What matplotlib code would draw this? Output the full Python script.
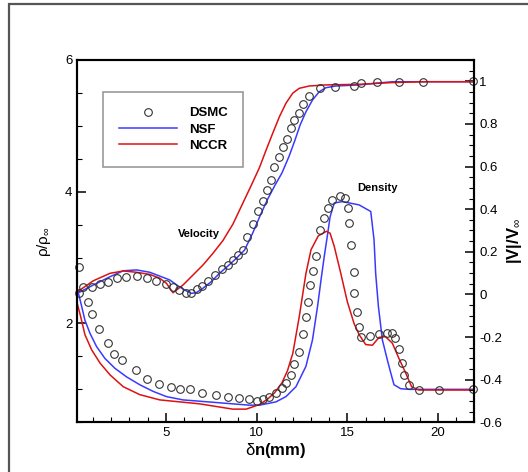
import matplotlib
matplotlib.use('Agg')
import matplotlib.pyplot as plt
from matplotlib.ticker import MultipleLocator, FuncFormatter
from matplotlib.lines import Line2D
from matplotlib.patches import Rectangle

plt.rcParams['font.family'] = ['Liberation Sans', 'DejaVu Sans']
plt.rcParams['mathtext.fontset'] = 'custom'
plt.rcParams['mathtext.rm'] = 'Liberation Sans'
plt.rcParams['mathtext.it'] = 'Liberation Sans:italic'
plt.rcParams['mathtext.bf'] = 'Liberation Sans:bold'
plt.rcParams['axes.unicode_minus'] = False

# ---- DSMC (circles) ----
dsmc_v_x = [0.2, 0.45, 0.92, 1.38, 1.8, 2.33, 2.8, 3.43, 3.97, 4.45, 5.0, 5.4, 5.73, 6.1, 6.41,
            6.72, 7.01, 7.32, 7.69, 8.11, 8.42, 8.69, 8.97, 9.24, 9.5, 9.8, 10.1, 10.35, 10.6,
            10.82, 10.98, 11.22, 11.48, 11.68, 11.9, 12.08, 12.32, 12.54, 12.9, 13.51, 14.33,
            15.34, 15.74, 16.65, 17.84, 19.18, 21.9]
dsmc_v = [0.008, 0.036, 0.033, 0.047, 0.060, 0.076, 0.083, 0.086, 0.079, 0.064, 0.049, 0.036,
          0.021, 0.008, 0.008, 0.025, 0.041, 0.064, 0.091, 0.118, 0.138, 0.161, 0.185, 0.208,
          0.27, 0.33, 0.39, 0.44, 0.49, 0.535, 0.596, 0.643, 0.690, 0.729, 0.779, 0.818, 0.853,
          0.892, 0.931, 0.967, 0.975, 0.979, 0.991, 0.995, 0.998, 0.998, 1.0]

dsmc_r_x = [0.2, 0.70, 0.92, 1.34, 1.84, 2.16, 2.60, 3.35, 3.97, 4.63, 5.31, 5.80, 6.32, 7.01,
            7.78, 8.42, 9.06, 9.57, 10.01, 10.34, 10.71, 11.07, 11.40, 11.62, 11.90, 12.08,
            12.32, 12.54, 12.72, 12.85, 12.96, 13.10, 13.27, 13.52, 13.71, 13.95, 14.17, 14.57,
            14.87, 15.04, 15.09, 15.19, 15.34, 15.37, 15.52, 15.65, 15.74, 16.25, 16.75, 17.17,
            17.48, 17.62, 17.84, 17.99, 18.12, 18.39, 18.94, 20.04, 21.93]
dsmc_r = [2.86, 2.33, 2.15, 1.91, 1.70, 1.53, 1.44, 1.29, 1.15, 1.08, 1.04, 1.01, 1.01, 0.94,
          0.91, 0.89, 0.87, 0.86, 0.82, 0.85, 0.89, 0.94, 1.02, 1.10, 1.22, 1.39, 1.57, 1.84,
          2.10, 2.32, 2.59, 2.79, 3.03, 3.42, 3.60, 3.75, 3.88, 3.93, 3.90, 3.75, 3.53, 3.19,
          2.78, 2.47, 2.17, 1.94, 1.80, 1.81, 1.84, 1.86, 1.85, 1.78, 1.61, 1.40, 1.22, 1.06,
          0.99, 0.99, 1.0]

# ---- NSF (blue) ----
nsf_v_x = [0.13, 1.01, 1.93, 2.66, 3.39, 4.12, 4.67, 5.22, 5.68, 6.04, 6.41, 6.68, 7.05, 7.51,
           7.96, 8.42, 8.88, 9.34, 9.8, 10.2, 10.6, 11.0, 11.4, 11.8, 12.1, 12.4, 12.72, 13.08,
           13.45, 13.82, 14.37, 15.65, 16.57, 17.48, 22.0]
nsf_v = [0.005, 0.044, 0.083, 0.111, 0.115, 0.104, 0.086, 0.068, 0.040, 0.021, 0.005, 0.008,
         0.029, 0.060, 0.099, 0.133, 0.169, 0.208, 0.29, 0.37, 0.445, 0.51, 0.57, 0.65, 0.72,
         0.795, 0.857, 0.912, 0.951, 0.970, 0.978, 0.983, 0.991, 0.998, 0.998]

nsf_r_x = [0.13, 0.22, 0.37, 0.55, 0.83, 1.19, 1.65, 2.20, 2.84, 3.57, 4.30, 5.04, 5.95, 6.87,
           7.78, 8.69, 9.61, 10.16, 11.07, 11.62, 12.17, 12.72, 13.08, 13.36, 13.55, 13.73,
           13.91, 14.05, 14.28, 14.73, 15.65, 16.29, 16.47, 16.56, 16.71, 16.93, 17.20, 17.39,
           17.57, 17.94, 18.39, 22.0]
nsf_r = [2.5, 2.43, 2.26, 2.05, 1.85, 1.65, 1.47, 1.32, 1.19, 1.07, 0.97, 0.89, 0.84, 0.82,
         0.80, 0.78, 0.76, 0.76, 0.81, 0.89, 1.04, 1.35, 1.75, 2.26, 2.66, 3.02, 3.35, 3.62,
         3.83, 3.85, 3.80, 3.70, 3.27, 2.76, 2.26, 1.75, 1.45, 1.25, 1.07, 1.01, 1.0, 1.0]

# ---- NCCR (red) ----
nccr_v_x = [0.13, 1.01, 1.93, 2.66, 3.39, 4.12, 4.67, 5.04, 5.40, 5.95, 6.50, 7.05, 7.60, 8.15,
            8.7, 9.2, 9.7, 10.16, 10.53, 10.89, 11.26, 11.62, 11.99, 12.35, 12.90, 13.82, 15.65,
            17.48, 19.3, 22.0]
nccr_v = [0.012, 0.064, 0.099, 0.110, 0.104, 0.094, 0.076, 0.052, 0.008, 0.044, 0.091, 0.138,
          0.193, 0.253, 0.33, 0.42, 0.51, 0.595, 0.678, 0.756, 0.834, 0.897, 0.944, 0.967, 0.978,
          0.983, 0.986, 0.994, 0.998, 0.998]

nccr_r_x = [0.13, 0.32, 0.55, 0.92, 1.38, 1.93, 2.66, 3.57, 4.67, 5.77, 6.87, 7.78, 8.69, 9.43,
            10.16, 10.6, 11.0, 11.4, 11.7, 12.0, 12.35, 12.72, 13.0, 13.4, 13.85, 14.05, 14.28,
            14.64, 15.0, 15.37, 15.65, 16.01, 16.38, 16.75, 17.1, 17.48, 17.84, 18.21, 18.54,
            18.94, 22.0]
nccr_r = [2.3, 2.10, 1.83, 1.60, 1.40, 1.22, 1.04, 0.92, 0.84, 0.81, 0.78, 0.74, 0.70, 0.70,
          0.77, 0.85, 0.95, 1.1, 1.28, 1.55, 2.10, 2.76, 3.12, 3.33, 3.40, 3.37, 3.17, 2.76,
          2.33, 2.0, 1.83, 1.68, 1.67, 1.79, 1.80, 1.70, 1.47, 1.25, 1.04, 0.99, 0.99]

blue = '#3a3aff'
red = '#dd1111'

fig = plt.figure(figsize=(5.28, 4.72), dpi=100)
ax = fig.add_axes([0.1464, 0.1053, 0.7522, 0.7676])
ax2 = ax.twinx()

# density on the left axis
ax.plot(nsf_r_x, nsf_r, color=blue, lw=1.1)
ax.plot(nccr_r_x, nccr_r, color=red, lw=1.1)
ax.plot(dsmc_r_x, dsmc_r, 'o', ms=5.5, mfc='none', mec='#333333', mew=0.8, clip_on=False)

# velocity on the right axis
ax2.plot(nsf_v_x, nsf_v, color=blue, lw=1.1)
ax2.plot(nccr_v_x, nccr_v, color=red, lw=1.1)
ax2.plot(dsmc_v_x, dsmc_v, 'o', ms=5.5, mfc='none', mec='#333333', mew=0.8, clip_on=False)

ax.set_xlim(0.13, 22)
ax.set_ylim(0.5, 6)
ax2.set_ylim(-0.6, 1.1)

fmt = FuncFormatter(lambda v, p: f'{round(v, 2) + 0.0:g}')
ax.xaxis.set_major_locator(MultipleLocator(5))
ax.xaxis.set_minor_locator(MultipleLocator(1))
ax.yaxis.set_major_locator(MultipleLocator(2))
ax.yaxis.set_minor_locator(MultipleLocator(0.5))
ax2.yaxis.set_major_locator(MultipleLocator(0.2))
ax2.yaxis.set_minor_locator(MultipleLocator(0.05))
ax.yaxis.set_major_formatter(fmt)
ax2.yaxis.set_major_formatter(fmt)

for a in (ax, ax2):
    a.tick_params(which='both', direction='in', top=False)
    a.tick_params(which='major', length=6.5, width=1.1, labelsize=9.5, pad=3.5)
    a.tick_params(which='minor', length=3.6, width=0.8)
    for s in a.spines.values():
        s.set_linewidth(1.5)
ax.tick_params(which='both', right=False)

ax.set_xlabel(r'δ$\mathbf{n(mm)}$', fontsize=12, labelpad=1)
ax.set_ylabel(r'ρ/ρ$_\infty$', fontsize=11, labelpad=9)
ax2.set_ylabel(r'$\mathbf{|V|/V}_\infty$', fontsize=12, labelpad=2)

ax.text(6.83, 3.36, 'Velocity', ha='center', va='center', fontsize=8, fontweight='bold')
ax.text(16.65, 4.05, 'Density', ha='center', va='center', fontsize=8, fontweight='bold')

handles = [Line2D([], [], ls='none', marker='o', ms=5.5, mfc='none', mec='#333333', mew=0.8),
           Line2D([], [], color=blue, lw=1.1),
           Line2D([], [], color=red, lw=1.1)]
leg = ax2.legend(handles, ['DSMC', 'NSF', 'NCCR'], loc='upper left',
                 bbox_to_anchor=(0.0655, 0.9125), borderaxespad=0, fancybox=False,
                 framealpha=1, edgecolor='#999999', borderpad=1.17, handlelength=4.4,
                 handletextpad=0.9, labelspacing=0.31, numpoints=1,
                 prop={'weight': 'bold', 'size': 9.5})
leg.get_frame().set_linewidth(1.2)

# outer frame of the original picture
fig.patches.append(Rectangle((9 / 528, -0.05), 1.0, 1 - 4 / 472 + 0.05, transform=fig.transFigure,
                             fill=False, edgecolor='#555555', linewidth=1.6, clip_on=False))

fig.savefig('out.png', dpi=100)
